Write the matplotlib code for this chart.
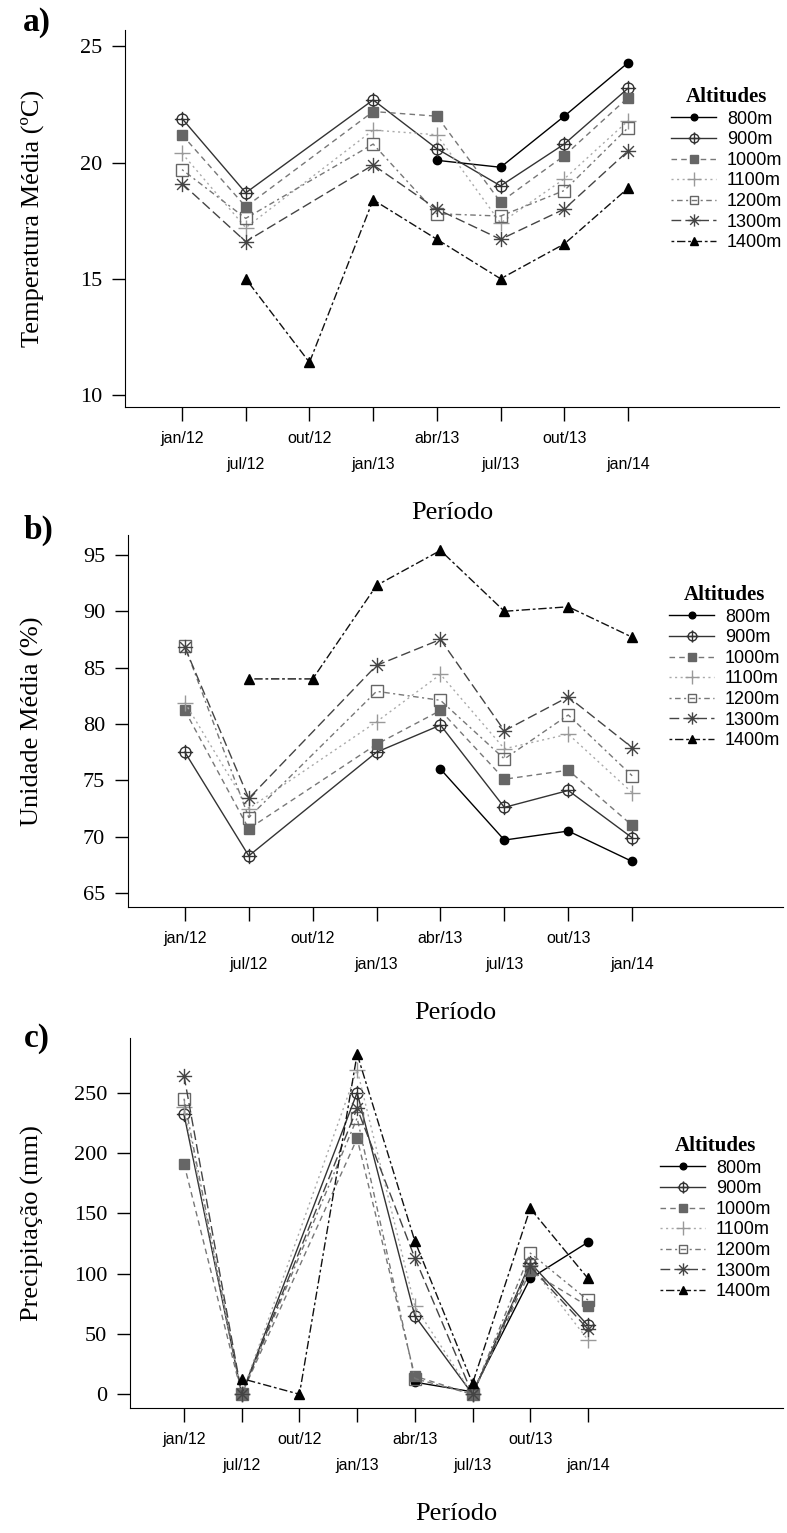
import numpy as np
import matplotlib.pyplot as plt
from matplotlib.path import Path

SERIF = 'Liberation Serif'
SANS = 'Liberation Sans'

periods = ['jan/12', 'jul/12', 'out/12', 'jan/13', 'abr/13', 'jul/13', 'out/13', 'jan/14']
altitudes = ['800m', '900m', '1000m', '1100m', '1200m', '1300m', '1400m']
nan = np.nan

# a) Temperatura média (ºC)
temp_800 = [nan, nan, nan, nan, 20.1, 19.8, 22.0, 24.3]
temp_900 = [21.9, 18.7, nan, 22.7, 20.6, 19.0, 20.8, 23.2]
temp_1000 = [21.2, 18.1, nan, 22.2, 22.0, 18.3, 20.3, 22.8]
temp_1100 = [20.4, 17.2, nan, 21.4, 21.2, 17.4, 19.3, 21.8]
temp_1200 = [19.7, 17.6, nan, 20.8, 17.8, 17.7, 18.8, 21.5]
temp_1300 = [19.1, 16.6, nan, 19.9, 18.0, 16.7, 18.0, 20.5]
temp_1400 = [nan, 15.0, 11.4, 18.4, 16.7, 15.0, 16.5, 18.9]

# b) Umidade média (%)
umid_800 = [nan, nan, nan, nan, 76.0, 69.7, 70.5, 67.8]
umid_900 = [77.5, 68.3, nan, 77.5, 79.9, 72.6, 74.1, 69.9]
umid_1000 = [81.2, 70.7, nan, 78.2, 81.2, 75.1, 75.9, 71.0]
umid_1100 = [81.9, 72.5, nan, 80.2, 84.4, 77.8, 79.1, 73.9]
umid_1200 = [86.9, 71.7, nan, 82.9, 82.1, 76.9, 80.8, 75.4]
umid_1300 = [86.8, 73.4, nan, 85.2, 87.5, 79.4, 82.4, 77.9]
umid_1400 = [nan, 84.0, 84.0, 92.3, 95.4, 90.0, 90.4, 87.7]

# c) Precipitação (mm)
prec_800 = [nan, nan, nan, nan, 10, 2, 96, 126]
prec_900 = [232, 0, nan, 250, 65, 0, 109, 57]
prec_1000 = [191, 0, nan, 212, 15, 0, 102, 73]
prec_1100 = [238, 0, nan, 269, 73, 0, 107, 45]
prec_1200 = [245, 0, nan, 229, 13, 0, 117, 78]
prec_1300 = [264, 0, nan, 237, 113, 0, 106, 54]
prec_1400 = [nan, 13, 0, 282, 127, 9, 154, 96]

temp = [temp_800, temp_900, temp_1000, temp_1100, temp_1200, temp_1300, temp_1400]
umid = [umid_800, umid_900, umid_1000, umid_1100, umid_1200, umid_1300, umid_1400]
prec = [prec_800, prec_900, prec_1000, prec_1100, prec_1200, prec_1300, prec_1400]

# marcadores tipo R (pch 10 e pch 8)
circ_plus = Path.make_compound_path(
    Path.unit_circle(),
    Path([[-1.4, 0], [1.4, 0], [0, -1.4], [0, 1.4]], [1, 2, 1, 2]))
asterisk = Path([[-1, 0], [1, 0], [0, -1], [0, 1],
                 [-.71, -.71], [.71, .71], [-.71, .71], [.71, -.71]],
                [1, 2, 1, 2, 1, 2, 1, 2])

styles = [
    dict(color='#000000', ls='-', marker='o', ms=6, mfc='#000000', mec='#000000'),
    dict(color='#333333', ls='-', marker=circ_plus, ms=11, mfc='none', mec='#333333'),
    dict(color='#777777', ls=(0, (4, 3)), marker='s', ms=7, mfc='#666666', mec='#666666'),
    dict(color='#aaaaaa', ls=(0, (1.5, 2.5)), marker='+', ms=12, mec='#999999'),
    dict(color='#777777', ls=(0, (1.5, 2.5, 4, 2.5)), marker='s', ms=8, mfc='none', mec='#666666'),
    dict(color='#444444', ls=(0, (7, 3)), marker=asterisk, ms=11, mfc='none', mec='#444444'),
    dict(color='#111111', ls=(0, (2, 2, 6, 2)), marker='^', ms=7.5, mfc='#000000', mec='#000000'),
]

W, H = 787, 1533
fig = plt.figure(figsize=(W / 100, H / 100), dpi=100)


def fx(x):
    return x / W


def fy(y):
    return 1 - y / H


def panel(box, data, xlim, ylim, yticks, ylabel, tag, tag_xy, leg_xy):
    left, top, right, bottom = box
    ax = fig.add_axes([fx(left), fy(bottom), (right - left) / W, (bottom - top) / H])
    x = np.arange(len(periods))
    for name, vals, st in zip(altitudes, data, styles):
        y = np.asarray(vals, dtype=float)
        m = ~np.isnan(y)
        ax.plot(x[m], y[m], lw=1, mew=1, label=name, **st)

    ax.set_xlim(*xlim)
    ax.set_ylim(*ylim)
    ax.spines['top'].set_visible(False)
    ax.spines['right'].set_visible(False)

    ax.set_yticks(yticks)
    ax.set_yticklabels([str(v) for v in yticks], fontfamily=SERIF, fontsize=16)
    ax.tick_params(axis='y', length=9.5, width=1, pad=7)

    ax.set_xticks(x[::2])
    ax.set_xticklabels(periods[::2], fontfamily=SANS, fontsize=11.5)
    ax.set_xticks(x[1::2], minor=True)
    ax.set_xticklabels(periods[1::2], minor=True, fontfamily=SANS, fontsize=11.5)
    ax.tick_params(axis='x', which='both', length=10, width=1)
    ax.tick_params(axis='x', which='major', pad=7)
    ax.tick_params(axis='x', which='minor', pad=26)

    fig.text(fx(32), fy((top + bottom) / 2), ylabel, rotation=90, ha='center', va='center',
             fontfamily=SERIF, fontsize=19)
    fig.text(fx((left + right) / 2), fy(bottom + 106), 'Período', ha='center', va='center',
             fontfamily=SERIF, fontsize=19)
    fig.text(fx(tag_xy[0]), fy(tag_xy[1]), tag, ha='center', va='center',
             fontfamily=SERIF, fontweight='bold', fontsize=24)

    leg = ax.legend(loc='upper left', bbox_to_anchor=(fx(leg_xy[0]), fy(leg_xy[1])),
                    bbox_transform=fig.transFigure, frameon=False, title='Altitudes',
                    prop={'family': SANS, 'size': 13},
                    title_fontproperties={'family': SERIF, 'weight': 'bold', 'size': 15},
                    handlelength=2.5, handletextpad=0.6, labelspacing=0.2, borderpad=0,
                    numpoints=1, markerscale=0.8)
    return ax


panel((125, 30, 779, 407), temp, (-0.895, 9.37), (9.48, 25.71), [10, 15, 20, 25],
      'Temperatura Média (ºC)', 'a)', (37, 22), (662, 78))
panel((128, 535, 783, 907), umid, (-0.89, 9.36), (63.76, 96.77), [65, 70, 75, 80, 85, 90, 95],
      'Unidade Média (%)', 'b)', (38, 530), (660, 576))
panel((130, 1038, 783, 1408), prec, (-0.936, 10.38), (-11.4, 295.3), [0, 50, 100, 150, 200, 250],
      'Precipitação (mm)', 'c)', (37, 1038), (651, 1127))

fig.savefig('out.png', dpi=100)
